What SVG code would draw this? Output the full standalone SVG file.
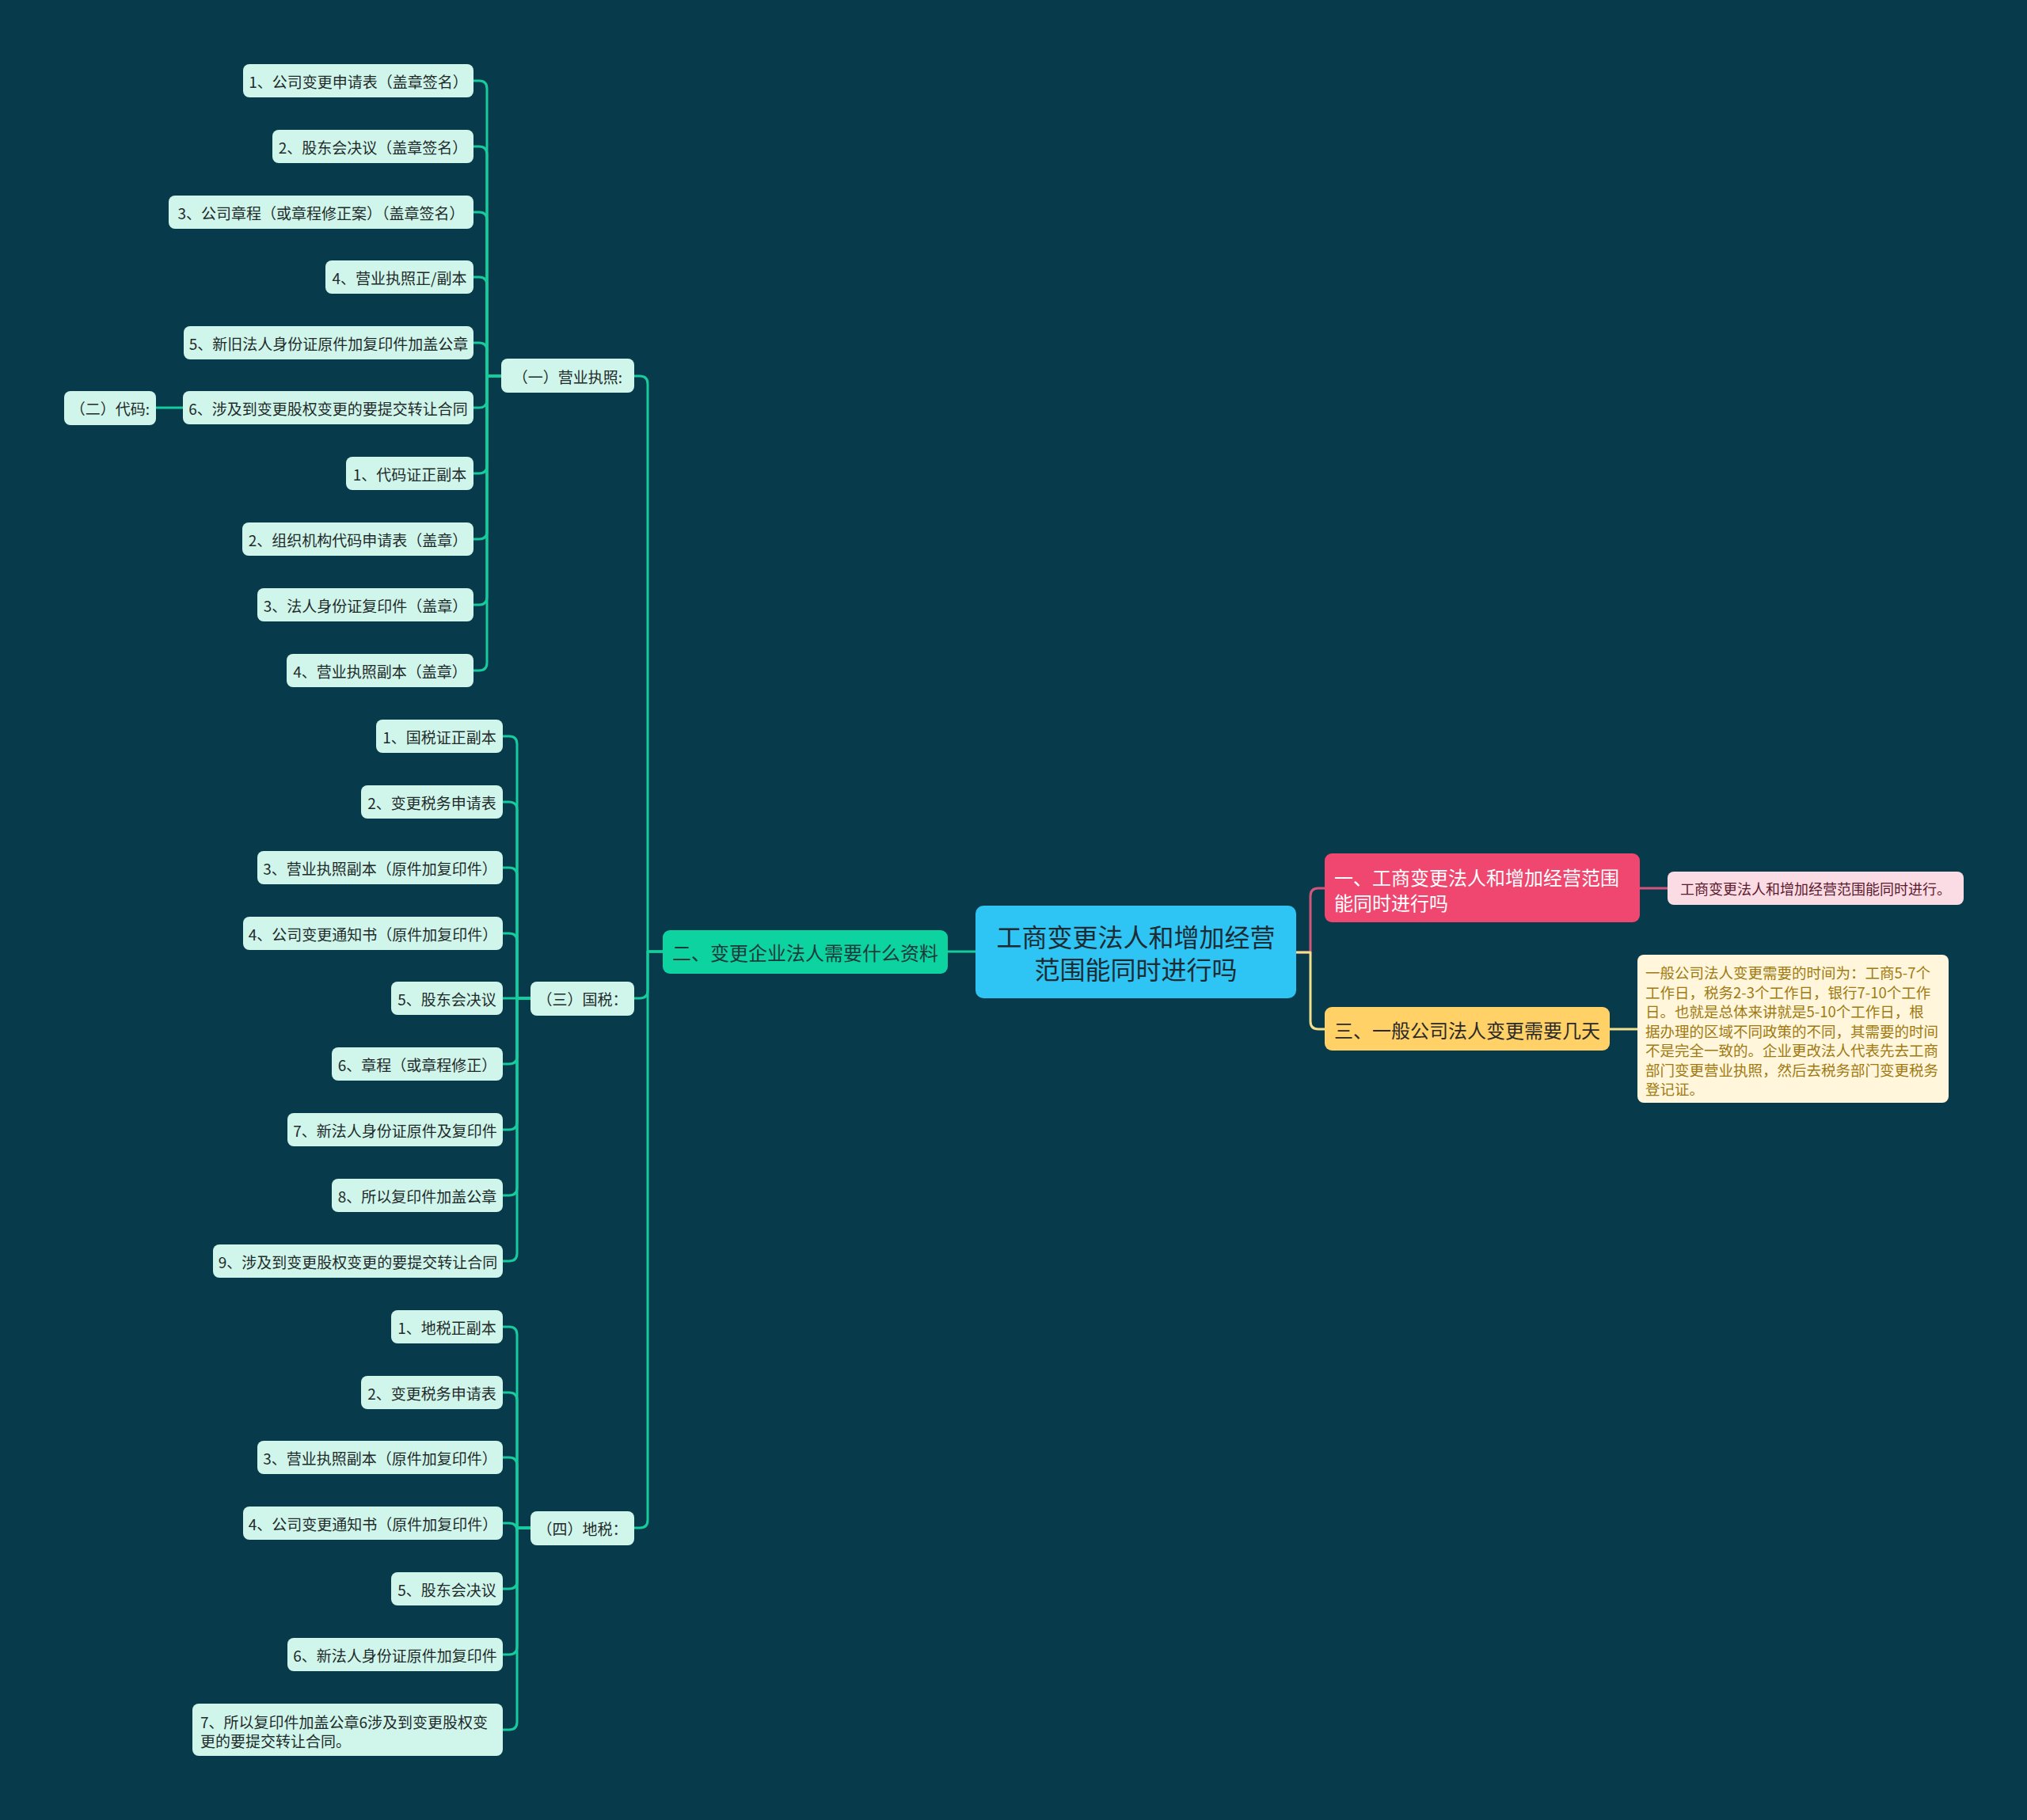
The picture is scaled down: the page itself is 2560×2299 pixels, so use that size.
<svg xmlns="http://www.w3.org/2000/svg" width="2560" height="2299" viewBox="0 0 2560 2299">
<style>
text{font-family:"Noto Sans CJK SC","Noto Sans",sans-serif;}
.bg{fill:#073B4C;}
.leaf rect{fill:#D0F6EB;}
.leaf text{font-size:19px;fill:#1f2a2a;text-anchor:middle;dominant-baseline:central;}
.leaf text.l{text-anchor:start;}
.cg{fill:none;stroke:#17CC9C;stroke-width:3;stroke-linecap:round;stroke-linejoin:round;}
.cp{fill:none;stroke:#D4557B;stroke-width:3;stroke-linejoin:round;}
.cy{fill:none;stroke:#F3DF8C;stroke-width:3;stroke-linejoin:round;}
</style>
<rect class="bg" x="0" y="0" width="2560" height="2299"/>

<g id="connectors">
<!-- root branches -->
<path class="cg" d="M1232,1202 H1197"/>
<path class="cp" d="M1637,1203 H1655 V1132 Q1655,1122 1665,1122 H1673"/>
<path class="cy" d="M1637,1203 H1655 V1290 Q1655,1300 1665,1300 H1673"/>
<path class="cp" d="M2071,1122 H2106"/>
<path class="cy" d="M2033,1300 H2068"/>
<!-- 二 to subgroups -->
<path class="cg" d="M837,1202 H818 V485 Q818,475 808,475 H801"/>
<path class="cg" d="M837,1202 H818 V1251 Q818,1261 808,1261 H801"/>
<path class="cg" d="M837,1202 H818 V1920 Q818,1930 808,1930 H801"/>
<!-- (一) children -->
<path class="cg" d="M633,475 H615 V112 Q615,102 605,102 H598"/>
<path class="cg" d="M633,475 H615 V195 Q615,185 605,185 H598"/>
<path class="cg" d="M633,475 H615 V278 Q615,268 605,268 H598"/>
<path class="cg" d="M633,475 H615 V360 Q615,350 605,350 H598"/>
<path class="cg" d="M633,475 H615 V443 Q615,433 605,433 H598"/>
<path class="cg" d="M633,475 H615 V505 Q615,515 605,515 H598"/>
<path class="cg" d="M633,475 H615 V588 Q615,598 605,598 H598"/>
<path class="cg" d="M633,475 H615 V671 Q615,681 605,681 H598"/>
<path class="cg" d="M633,475 H615 V754 Q615,764 605,764 H598"/>
<path class="cg" d="M633,475 H615 V837 Q615,847 605,847 H598"/>
<path class="cg" d="M231,515 H197"/>
<!-- (三) children -->
<path class="cg" d="M670,1261 H653 V940 Q653,930 643,930 H635"/>
<path class="cg" d="M670,1261 H653 V1023 Q653,1013 643,1013 H635"/>
<path class="cg" d="M670,1261 H653 V1106 Q653,1096 643,1096 H635"/>
<path class="cg" d="M670,1261 H653 V1189 Q653,1179 643,1179 H635"/>
<path class="cg" d="M670,1261 H635"/>
<path class="cg" d="M670,1261 H653 V1334 Q653,1344 643,1344 H635"/>
<path class="cg" d="M670,1261 H653 V1417 Q653,1427 643,1427 H635"/>
<path class="cg" d="M670,1261 H653 V1500 Q653,1510 643,1510 H635"/>
<path class="cg" d="M670,1261 H653 V1583 Q653,1593 643,1593 H635"/>
<!-- (四) children -->
<path class="cg" d="M670,1930 H653 V1686 Q653,1676 643,1676 H635"/>
<path class="cg" d="M670,1930 H653 V1769 Q653,1759 643,1759 H635"/>
<path class="cg" d="M670,1930 H653 V1851 Q653,1841 643,1841 H635"/>
<path class="cg" d="M670,1930 H653 V1934 Q653,1924 643,1924 H635"/>
<path class="cg" d="M670,1930 H653 V1997 Q653,2007 643,2007 H635"/>
<path class="cg" d="M670,1930 H653 V2080 Q653,2090 643,2090 H635"/>
<path class="cg" d="M670,1930 H653 V2175 Q653,2185 643,2185 H635"/>
</g>

<g id="root">
<rect x="1232" y="1144" width="405" height="117" rx="10" fill="#2EC4F3"/>
<text x="1434.5" y="1182" font-size="32" fill="#1d2b33" text-anchor="middle" dominant-baseline="central">工商变更法人和增加经营</text>
<text x="1434.5" y="1223" font-size="32" fill="#1d2b33" text-anchor="middle" dominant-baseline="central">范围能同时进行吗</text>
</g>

<g id="b1">
<rect x="1673" y="1078" width="398" height="87" rx="9" fill="#EF476F"/>
<text x="1685" y="1107" font-size="24" fill="#ffffff" dominant-baseline="central">一、工商变更法人和增加经营范围</text>
<text x="1685" y="1139" font-size="24" fill="#ffffff" dominant-baseline="central">能同时进行吗</text>
</g>
<g id="b1-leaf">
<rect x="2106" y="1101" width="374" height="42" rx="8" fill="#FCDCE4"/>
<text x="2293" y="1122" font-size="18" fill="#5A1A2E" text-anchor="middle" dominant-baseline="central">工商变更法人和增加经营范围能同时进行。</text>
</g>

<g id="b3">
<rect x="1673" y="1272" width="360" height="55" rx="9" fill="#FFD166"/>
<text x="1685" y="1300" font-size="24" fill="#2a2a2a" dominant-baseline="central">三、一般公司法人变更需要几天</text>
</g>
<g id="b3-leaf">
<rect x="2068" y="1206" width="393" height="187" rx="8" fill="#FFF6DC"/>
<g font-size="18.5" fill="#A07A10" dominant-baseline="central">
<text x="2078" y="1228">一般公司法人变更需要的时间为：工商5-7个</text>
<text x="2078" y="1253">工作日，税务2-3个工作日，银行7-10个工作</text>
<text x="2078" y="1277">日。也就是总体来讲就是5-10个工作日，根</text>
<text x="2078" y="1302">据办理的区域不同政策的不同，其需要的时间</text>
<text x="2078" y="1326">不是完全一致的。企业更改法人代表先去工商</text>
<text x="2078" y="1351">部门变更营业执照，然后去税务部门变更税务</text>
<text x="2078" y="1375">登记证。</text>
</g>
</g>

<g id="b2">
<rect x="837" y="1175" width="360" height="55" rx="9" fill="#0CD3A0"/>
<text x="1017" y="1202" font-size="24" fill="#1d3b3b" text-anchor="middle" dominant-baseline="central">二、变更企业法人需要什么资料</text>
</g>

<g id="g1" class="leaf"><rect x="633" y="453" width="168" height="43" rx="8"/><text x="717" y="475">（一）营业执照:</text></g>
<g id="g3" class="leaf"><rect x="670" y="1240" width="131" height="43" rx="8"/><text x="735.5" y="1261">（三）国税：</text></g>
<g id="g4" class="leaf"><rect x="670" y="1909" width="131" height="43" rx="8"/><text x="735.5" y="1930">（四）地税：</text></g>
<g id="g2" class="leaf"><rect x="81" y="494" width="116" height="43" rx="8"/><text x="139" y="515">（二）代码:</text></g>

<g id="a1" class="leaf"><rect x="307" y="81" width="291" height="42" rx="8"/><text x="452.5" y="102">1、公司变更申请表（盖章签名）</text></g>
<g id="a2" class="leaf"><rect x="344" y="164" width="254" height="42" rx="8"/><text x="471" y="185">2、股东会决议（盖章签名）</text></g>
<g id="a3" class="leaf"><rect x="213" y="247" width="385" height="42" rx="8"/><text x="405.5" y="268">3、公司章程（或章程修正案）（盖章签名）</text></g>
<g id="a4" class="leaf"><rect x="411" y="329" width="187" height="42" rx="8"/><text x="504.5" y="350">4、营业执照正/副本</text></g>
<g id="a5" class="leaf"><rect x="232" y="412" width="366" height="42" rx="8"/><text x="415" y="433">5、新旧法人身份证原件加复印件加盖公章</text></g>
<g id="a6" class="leaf"><rect x="231" y="494" width="367" height="42" rx="8"/><text x="414.5" y="515">6、涉及到变更股权变更的要提交转让合同</text></g>
<g id="a7" class="leaf"><rect x="437" y="577" width="161" height="42" rx="8"/><text x="517.5" y="598">1、代码证正副本</text></g>
<g id="a8" class="leaf"><rect x="306" y="660" width="292" height="42" rx="8"/><text x="452" y="681">2、组织机构代码申请表（盖章）</text></g>
<g id="a9" class="leaf"><rect x="325" y="743" width="273" height="42" rx="8"/><text x="461.5" y="764">3、法人身份证复印件（盖章）</text></g>
<g id="a10" class="leaf"><rect x="362" y="826" width="236" height="42" rx="8"/><text x="480" y="847">4、营业执照副本（盖章）</text></g>

<g id="n1" class="leaf"><rect x="475" y="909" width="160" height="42" rx="8"/><text x="555" y="930">1、国税证正副本</text></g>
<g id="n2" class="leaf"><rect x="456" y="992" width="179" height="42" rx="8"/><text x="545.5" y="1013">2、变更税务申请表</text></g>
<g id="n3" class="leaf"><rect x="325" y="1075" width="310" height="42" rx="8"/><text x="480" y="1096">3、营业执照副本（原件加复印件）</text></g>
<g id="n4" class="leaf"><rect x="307" y="1158" width="328" height="42" rx="8"/><text x="471" y="1179">4、公司变更通知书（原件加复印件）</text></g>
<g id="n5" class="leaf"><rect x="494" y="1240" width="141" height="42" rx="8"/><text x="564.5" y="1261">5、股东会决议</text></g>
<g id="n6" class="leaf"><rect x="419" y="1323" width="216" height="42" rx="8"/><text x="527" y="1344">6、章程（或章程修正）</text></g>
<g id="n7" class="leaf"><rect x="363" y="1406" width="272" height="42" rx="8"/><text x="499" y="1427">7、新法人身份证原件及复印件</text></g>
<g id="n8" class="leaf"><rect x="419" y="1489" width="216" height="42" rx="8"/><text x="527" y="1510">8、所以复印件加盖公章</text></g>
<g id="n9" class="leaf"><rect x="269" y="1572" width="366" height="42" rx="8"/><text x="452" y="1593">9、涉及到变更股权变更的要提交转让合同</text></g>

<g id="d1" class="leaf"><rect x="494" y="1655" width="141" height="42" rx="8"/><text x="564.5" y="1676">1、地税正副本</text></g>
<g id="d2" class="leaf"><rect x="456" y="1738" width="179" height="42" rx="8"/><text x="545.5" y="1759">2、变更税务申请表</text></g>
<g id="d3" class="leaf"><rect x="325" y="1820" width="310" height="42" rx="8"/><text x="480" y="1841">3、营业执照副本（原件加复印件）</text></g>
<g id="d4" class="leaf"><rect x="307" y="1903" width="328" height="42" rx="8"/><text x="471" y="1924">4、公司变更通知书（原件加复印件）</text></g>
<g id="d5" class="leaf"><rect x="494" y="1986" width="141" height="42" rx="8"/><text x="564.5" y="2007">5、股东会决议</text></g>
<g id="d6" class="leaf"><rect x="363" y="2069" width="272" height="42" rx="8"/><text x="499" y="2090">6、新法人身份证原件加复印件</text></g>
<g id="d7" class="leaf"><rect x="243" y="2152" width="392" height="66" rx="8"/><text class="l" x="253" y="2174">7、所以复印件加盖公章6涉及到变更股权变</text><text class="l" x="253" y="2198">更的要提交转让合同。</text></g>
</svg>
